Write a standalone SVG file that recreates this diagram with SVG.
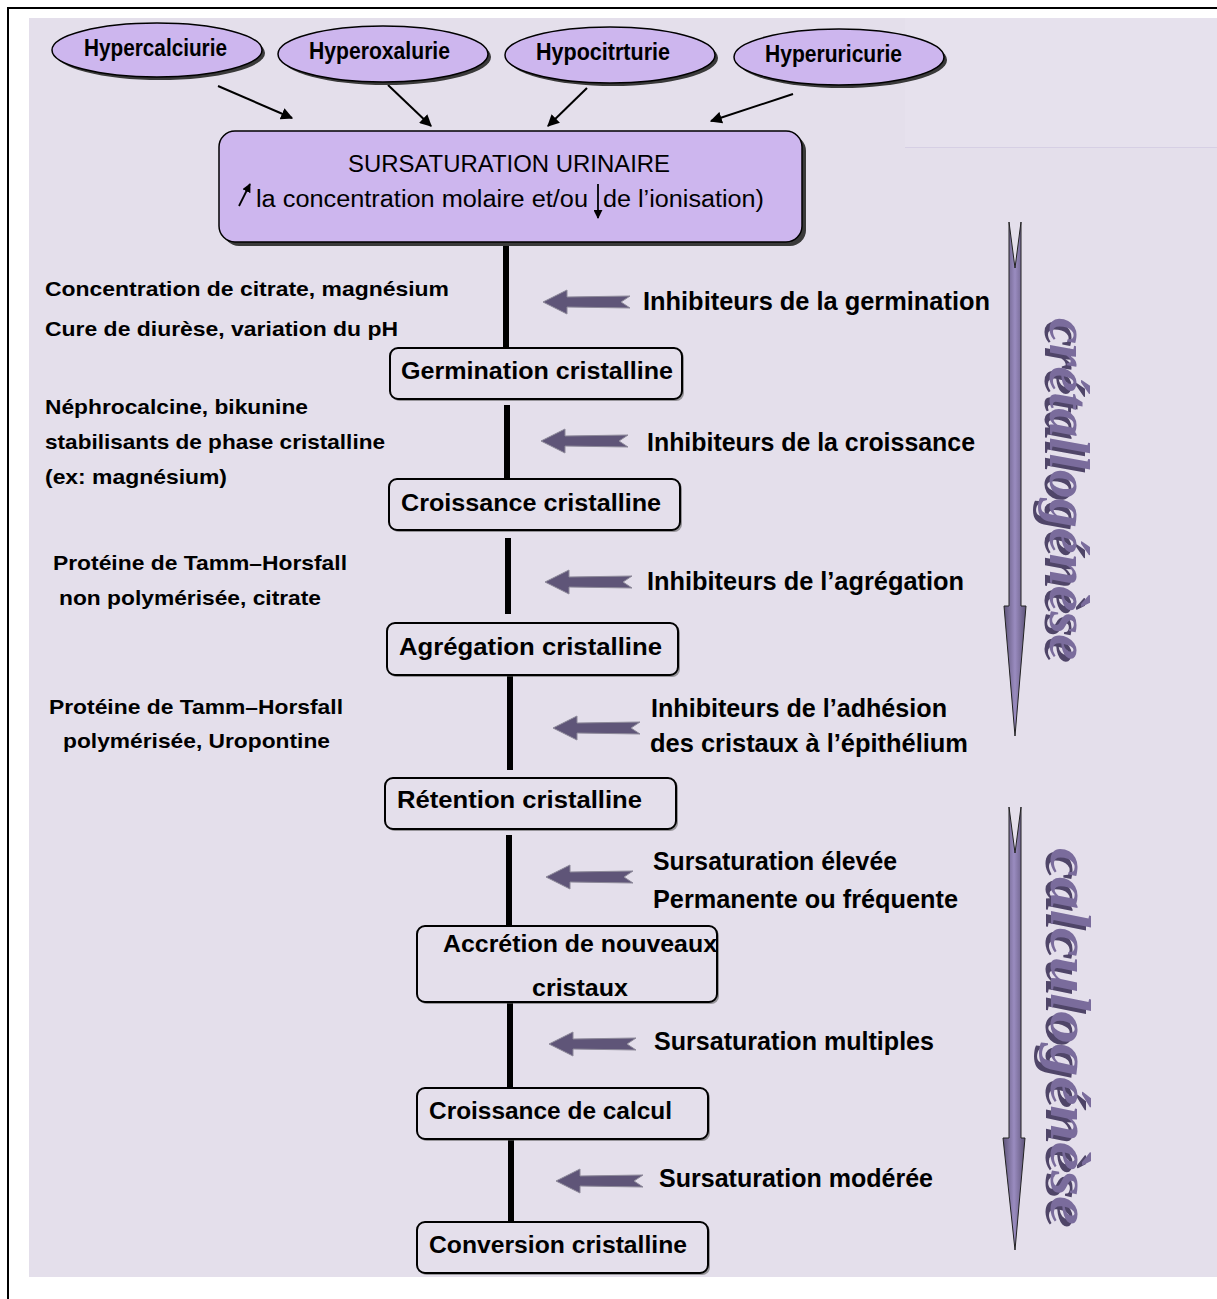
<svg xmlns="http://www.w3.org/2000/svg" xmlns:xlink="http://www.w3.org/1999/xlink" width="1217" height="1299" viewBox="0 0 1217 1299">
<style>
.t{font-family:"Liberation Sans",Arial,sans-serif;fill:#000}
.ell{font-family:"Liberation Sans Narrow","Liberation Sans",Arial,sans-serif;font-weight:bold;font-size:23px}
.main{font-family:"Liberation Sans",Arial,sans-serif;font-size:23px}
.lt{font-family:"Liberation Sans",Arial,sans-serif;font-weight:bold;font-size:21px}
.bx{font-family:"Liberation Sans",Arial,sans-serif;font-weight:bold;font-size:23px}
.rt{font-family:"Liberation Sans Narrow","Liberation Sans",Arial,sans-serif;font-weight:bold;font-size:25px}
.box{fill:#e4dfeb;stroke:#000;stroke-width:2}
.boxsh{fill:#555;opacity:.55}
.vl{stroke:#000;stroke-width:6}
.big{font-family:"Liberation Serif","Times New Roman",serif;font-weight:bold;font-style:italic;font-size:56px}
</style>
<defs>
<marker id="ah" viewBox="0 0 10 10" refX="9" refY="5" markerWidth="9" markerHeight="9" markerUnits="userSpaceOnUse" orient="auto">
<path d="M0,0 L10,5 L0,10 Z" fill="#000"/>
</marker>
<marker id="ah2" viewBox="0 0 10 10" refX="9" refY="5" markerWidth="12" markerHeight="12" markerUnits="userSpaceOnUse" orient="auto">
<path d="M0,0 L10,5 L0,10 Z" fill="#000"/>
</marker>
<path id="inh" d="M0,0 L24,-12 L24,-5 L87,-6 L78,0 L87,6 L24,5 L24,12 Z" fill="#5f5578" stroke="#8e8a9a" stroke-width="1"/>
<linearGradient id="bg1" x1="0" x2="1" y1="0" y2="0">
<stop offset="0" stop-color="#5e5478"/>
<stop offset="0.5" stop-color="#9a8cc0"/>
<stop offset="1" stop-color="#5e5478"/>
</linearGradient>
</defs>

<rect x="29" y="18" width="1188" height="1259" fill="#e4dfeb"/>
<rect x="905" y="18" width="312" height="129" fill="#e6e1ed"/>
<line x1="905" y1="147.5" x2="1217" y2="147.5" stroke="#d6cfe4" stroke-width="1"/>
<path d="M8,1299 V8 H1217" fill="none" stroke="#000" stroke-width="2"/>

<g id="connectors">
<line x1="218" y1="86" x2="292" y2="118" stroke="#000" stroke-width="2" marker-end="url(#ah2)"/>
<line x1="388" y1="85" x2="431" y2="126" stroke="#000" stroke-width="2" marker-end="url(#ah2)"/>
<line x1="587" y1="88" x2="548" y2="126" stroke="#000" stroke-width="2" marker-end="url(#ah2)"/>
<line x1="793" y1="94" x2="711" y2="121" stroke="#000" stroke-width="2" marker-end="url(#ah2)"/>
<line class="vl" x1="506" y1="242" x2="506" y2="348"/>
<line class="vl" x1="507" y1="405" x2="507" y2="479"/>
<line class="vl" x1="508" y1="538" x2="508" y2="614"/>
<line class="vl" x1="510" y1="675" x2="510" y2="770"/>
<line class="vl" x1="509" y1="835" x2="509" y2="926"/>
<line class="vl" x1="510" y1="1002" x2="510" y2="1088"/>
<line class="vl" x1="511" y1="1139" x2="511" y2="1222"/>
<use xlink:href="#inh" x="543" y="302"/>
<use xlink:href="#inh" x="541" y="441"/>
<use xlink:href="#inh" x="545" y="582"/>
<use xlink:href="#inh" x="553" y="728"/>
<use xlink:href="#inh" x="546" y="877"/>
<use xlink:href="#inh" x="549" y="1044"/>
<use xlink:href="#inh" x="556" y="1181"/>
</g>

<g id="n-hypercalciurie">
<ellipse cx="160" cy="53" rx="105" ry="27" fill="#3a3a3a"/>
<ellipse cx="157" cy="50" rx="105" ry="27" fill="#cdb6ee" stroke="#000" stroke-width="1.5"/>
<text class="ell" x="84" y="56" textLength="143" lengthAdjust="spacingAndGlyphs">Hypercalciurie</text>
</g>
<g id="n-hyperoxalurie">
<ellipse cx="386" cy="57" rx="105" ry="28" fill="#3a3a3a"/>
<ellipse cx="383" cy="54" rx="105" ry="28" fill="#cdb6ee" stroke="#000" stroke-width="1.5"/>
<text class="ell" x="309" y="59" textLength="141" lengthAdjust="spacingAndGlyphs">Hyperoxalurie</text>
</g>
<g id="n-hypocitrturie">
<ellipse cx="613" cy="58" rx="105" ry="28" fill="#3a3a3a"/>
<ellipse cx="610" cy="55" rx="105" ry="28" fill="#cdb6ee" stroke="#000" stroke-width="1.5"/>
<text class="ell" x="536" y="60" textLength="134" lengthAdjust="spacingAndGlyphs">Hypocitrturie</text>
</g>
<g id="n-hyperuricurie">
<ellipse cx="842" cy="60" rx="105" ry="28" fill="#3a3a3a"/>
<ellipse cx="839" cy="57" rx="105" ry="28" fill="#cdb6ee" stroke="#000" stroke-width="1.5"/>
<text class="ell" x="765" y="62" textLength="137" lengthAdjust="spacingAndGlyphs">Hyperuricurie</text>
</g>

<g id="n-sursaturation">
<rect x="223" y="135" width="583" height="111" rx="16" fill="#3a3a3a"/>
<rect x="219" y="131" width="583" height="111" rx="16" fill="#cdb6ee" stroke="#000" stroke-width="1.5"/>
<text class="main" x="348" y="172" textLength="322" lengthAdjust="spacingAndGlyphs">SURSATURATION URINAIRE</text>
<text class="main" x="256" y="207" textLength="332" lengthAdjust="spacingAndGlyphs">la concentration molaire et/ou</text>
<text class="main" x="603" y="207" textLength="161" lengthAdjust="spacingAndGlyphs">de l’ionisation)</text>
<line x1="239" y1="206" x2="250" y2="184" stroke="#000" stroke-width="1.8" marker-end="url(#ah)"/>
<line x1="598" y1="184" x2="598" y2="218" stroke="#000" stroke-width="1.8" marker-end="url(#ah)"/>
</g>

<g id="n-germination">
<rect x="392" y="350" width="292" height="51" rx="8" class="boxsh"/>
<rect x="390" y="348" width="292" height="51" rx="8" class="box"/>
<text class="bx" x="401" y="379" textLength="272" lengthAdjust="spacingAndGlyphs">Germination cristalline</text>
</g>
<g id="n-croissance">
<rect x="391" y="481" width="291" height="51" rx="8" class="boxsh"/>
<rect x="389" y="479" width="291" height="51" rx="8" class="box"/>
<text class="bx" x="401" y="511" textLength="260" lengthAdjust="spacingAndGlyphs">Croissance  cristalline</text>
</g>
<g id="n-agregation">
<rect x="389" y="625" width="291" height="52" rx="8" class="boxsh"/>
<rect x="387" y="623" width="291" height="52" rx="8" class="box"/>
<text class="bx" x="399" y="655" textLength="263" lengthAdjust="spacingAndGlyphs">Agrégation  cristalline</text>
</g>
<g id="n-retention">
<rect x="387" y="780" width="291" height="51" rx="8" class="boxsh"/>
<rect x="385" y="778" width="291" height="51" rx="8" class="box"/>
<text class="bx" x="397" y="808" textLength="245" lengthAdjust="spacingAndGlyphs">Rétention  cristalline</text>
</g>
<g id="n-accretion">
<rect x="419" y="928" width="300" height="76" rx="8" class="boxsh"/>
<rect x="417" y="926" width="300" height="76" rx="8" class="box"/>
<text class="bx" x="443" y="952" textLength="274" lengthAdjust="spacingAndGlyphs">Accrétion de nouveaux</text>
<text class="bx" x="532" y="996" textLength="96" lengthAdjust="spacingAndGlyphs">cristaux</text>
</g>
<g id="n-croissance-calcul">
<rect x="419" y="1090" width="291" height="51" rx="8" class="boxsh"/>
<rect x="417" y="1088" width="291" height="51" rx="8" class="box"/>
<text class="bx" x="429" y="1119" textLength="243" lengthAdjust="spacingAndGlyphs">Croissance de calcul</text>
</g>
<g id="n-conversion">
<rect x="419" y="1224" width="291" height="51" rx="8" class="boxsh"/>
<rect x="417" y="1222" width="291" height="51" rx="8" class="box"/>
<text class="bx" x="429" y="1253" textLength="258" lengthAdjust="spacingAndGlyphs">Conversion cristalline</text>
</g>

<g id="left-labels">
<text class="lt" x="45" y="296" textLength="404" lengthAdjust="spacingAndGlyphs">Concentration de citrate, magnésium</text>
<text class="lt" x="45" y="336" textLength="353" lengthAdjust="spacingAndGlyphs">Cure de diurèse, variation du pH</text>
<text class="lt" x="45" y="414" textLength="263" lengthAdjust="spacingAndGlyphs">Néphrocalcine, bikunine</text>
<text class="lt" x="45" y="449" textLength="340" lengthAdjust="spacingAndGlyphs">stabilisants de phase cristalline</text>
<text class="lt" x="45" y="484" textLength="182" lengthAdjust="spacingAndGlyphs">(ex: magnésium)</text>
<text class="lt" x="53" y="570" textLength="294" lengthAdjust="spacingAndGlyphs">Protéine de Tamm–Horsfall</text>
<text class="lt" x="59" y="605" textLength="262" lengthAdjust="spacingAndGlyphs">non polymérisée, citrate</text>
<text class="lt" x="49" y="714" textLength="294" lengthAdjust="spacingAndGlyphs">Protéine de Tamm–Horsfall</text>
<text class="lt" x="63" y="748" textLength="267" lengthAdjust="spacingAndGlyphs">polymérisée, Uropontine</text>
</g>

<g id="right-labels">
<text class="rt" x="643" y="310" textLength="347" lengthAdjust="spacingAndGlyphs">Inhibiteurs de la germination</text>
<text class="rt" x="647" y="451" textLength="328" lengthAdjust="spacingAndGlyphs">Inhibiteurs de la croissance</text>
<text class="rt" x="647" y="590" textLength="317" lengthAdjust="spacingAndGlyphs">Inhibiteurs de l’agrégation</text>
<text class="rt" x="651" y="717" textLength="296" lengthAdjust="spacingAndGlyphs">Inhibiteurs de l’adhésion</text>
<text class="rt" x="650" y="752" textLength="318" lengthAdjust="spacingAndGlyphs">des cristaux à l’épithélium</text>
<text class="rt" x="653" y="870" textLength="244" lengthAdjust="spacingAndGlyphs">Sursaturation élevée</text>
<text class="rt" x="653" y="908" textLength="305" lengthAdjust="spacingAndGlyphs">Permanente ou fréquente</text>
<text class="rt" x="654" y="1050" textLength="280" lengthAdjust="spacingAndGlyphs">Sursaturation multiples</text>
<text class="rt" x="659" y="1187" textLength="274" lengthAdjust="spacingAndGlyphs">Sursaturation modérée</text>
</g>

<g id="n-cretallogenese">
<path d="M1009,222 L1015,268 L1021,222 L1021,606 L1026,606 L1015,736 L1004,606 L1009,606 Z" fill="url(#bg1)" stroke="#222" stroke-width="1"/>
<text class="big" transform="translate(1045,321) rotate(90)" x="0" y="0" fill="#4f4568" textLength="342" lengthAdjust="spacingAndGlyphs">crétallogénèse</text>
<text class="big" transform="translate(1050,318) rotate(90)" x="0" y="0" fill="#7a6c9c" textLength="342" lengthAdjust="spacingAndGlyphs">crétallogénèse</text>
</g>
<g id="n-calculogenese">
<path d="M1009,807 L1015,853 L1021,807 L1021,1138 L1025,1138 L1015,1250 L1003,1138 L1009,1138 Z" fill="url(#bg1)" stroke="#222" stroke-width="1"/>
<text class="big" transform="translate(1046,851) rotate(90)" x="0" y="0" fill="#4f4568" textLength="377" lengthAdjust="spacingAndGlyphs">calculogénèse</text>
<text class="big" transform="translate(1051,848) rotate(90)" x="0" y="0" fill="#7a6c9c" textLength="377" lengthAdjust="spacingAndGlyphs">calculogénèse</text>
</g>
</svg>
